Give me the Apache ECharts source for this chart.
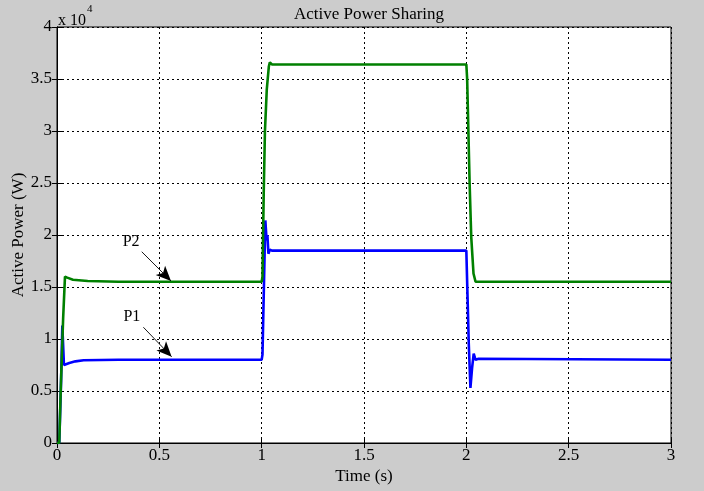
<!DOCTYPE html>
<html><head><meta charset="utf-8">
<script src="https://cdn.jsdelivr.net/npm/echarts@6/dist/echarts.min.js"></script>
<style>html,body{margin:0;padding:0;background:#cccccc}#c{width:704px;height:491px}</style>
</head><body><div id="c"></div>
<script>
// Values in units of 10^4 W
var P1 = [[0,0],[0.011,0],[0.02,0.6],[0.026,1.13],[0.034,0.75],[0.06,0.77],[0.09,0.785],[0.13,0.795],[0.3,0.8],[1.0,0.8],[1.004,0.85],[1.012,1.6],[1.018,2.14],[1.024,1.95],[1.028,2.0],[1.033,1.82],[1.04,1.86],[1.05,1.85],[2.0,1.85],[2.006,1.4],[2.012,0.95],[2.02,0.53],[2.028,0.72],[2.036,0.86],[2.045,0.8],[2.06,0.81],[3.0,0.8]];
var P2 = [[0,0],[0.011,0],[0.019,0.56],[0.03,1.2],[0.039,1.6],[0.05,1.59],[0.078,1.57],[0.15,1.558],[0.3,1.55],[1.0,1.55],[1.004,1.6],[1.01,2.4],[1.016,3.0],[1.025,3.4],[1.035,3.62],[1.04,3.66],[1.05,3.64],[2.0,3.64],[2.004,3.5],[2.016,2.5],[2.024,1.98],[2.035,1.63],[2.045,1.55],[3.0,1.55]];
var xTicks = [0,0.5,1,1.5,2,2.5,3];
var yTicks = [0,0.5,1,1.5,2,2.5,3,3.5,4];
var labelNames = ['P2','P1'];
var labelPos = [[0.362,1.933],[0.366,1.212]];
var arrowFrom = [[0.414,1.839],[0.422,1.113]];
var arrowTo = [[0.557,1.558],[0.560,0.830]];

var FONT = 'Liberation Serif';
var chart = echarts.init(document.getElementById('c'));
var tickFmt = function(v){ return String(v); };
var option = {
  backgroundColor: '#cccccc',
  animation: false,
  title: {text: 'Active Power Sharing', left: 364, top: 1, textAlign: 'center',
    textStyle: {fontFamily: FONT, fontSize: 17, fontWeight: 'normal', color: '#000'}},
  grid: {left: 57, right: 33, top: 27, bottom: 48, containLabel: false, outerBoundsMode: 'none',
    show: true, backgroundColor: '#fff', borderColor: '#000', borderWidth: 1},
  xAxis: [{
    type: 'value', min: 0, max: 3, interval: 0.5,
    name: 'Time (s)', nameLocation: 'middle', nameGap: 25, nameMoveOverlap: false,
    nameTextStyle: {fontFamily: FONT, fontSize: 17, color: '#000'},
    axisLine: {show: true, lineStyle: {color: '#000', width: 1}},
    axisTick: {show: true, inside: true, length: 5, lineStyle: {color: '#000'}},
    axisLabel: {fontFamily: FONT, fontSize: 17, color: '#000', margin: 4, formatter: tickFmt},
    splitLine: {show: true, lineStyle: {color: '#000', type: [2,3], width: 1}}
  },{
    type: 'value', min: 0, max: 3, interval: 0.5, position: 'top',
    axisLine: {show: true, lineStyle: {color: '#000'}},
    axisTick: {show: true, inside: true, length: 5, lineStyle: {color: '#000'}},
    axisLabel: {show: false}, splitLine: {show: false}
  }],
  yAxis: [{
    type: 'value', min: 0, max: 4, interval: 0.5,
    name: 'Active Power (W)', nameLocation: 'middle', nameGap: 30, nameMoveOverlap: false,
    nameTextStyle: {fontFamily: FONT, fontSize: 17, color: '#000'},
    axisLine: {show: true, lineStyle: {color: '#000', width: 1}},
    axisTick: {show: true, inside: true, length: 5, lineStyle: {color: '#000'}},
    axisLabel: {fontFamily: FONT, fontSize: 17, color: '#000', margin: 5, formatter: tickFmt},
    splitLine: {show: true, lineStyle: {color: '#000', type: [2,3], width: 1}}
  },{
    type: 'value', min: 0, max: 4, interval: 0.5, position: 'right',
    axisLine: {show: true, lineStyle: {color: '#000'}},
    axisTick: {show: true, inside: true, length: 5, lineStyle: {color: '#000'}},
    axisLabel: {show: false}, splitLine: {show: false}
  }],
  graphic: [{
    type: 'text', left: 58, top: 4,
    style: {text: '{a|x 10}{b|4}', rich: {
      a: {fontFamily: FONT, fontSize: 16, fill: '#000', verticalAlign: 'bottom', padding: [9,0,0,0]},
      b: {fontFamily: FONT, fontSize: 11, fill: '#000', verticalAlign: 'top', padding: [0,0,8,1]}
    }}
  }],
  series: [
    {type: 'line', name: 'P1', data: P1, showSymbol: false, symbol: 'none',
     lineStyle: {color: '#0000ff', width: 2.6}, itemStyle: {color: '#0000ff'}, z: 3},
    {type: 'line', name: 'P2', data: P2, showSymbol: false, symbol: 'none',
     lineStyle: {color: '#008000', width: 2.6}, itemStyle: {color: '#008000'}, z: 4,
     markLine: {silent: true, symbol: ['none','arrow'], symbolSize: [10,15],
       lineStyle: {color: '#000', width: 0.9, type: 'solid'}, label: {show: false},
       itemStyle: {color: '#000'},
       data: arrowFrom.map(function(f,i){ return [{coord: f}, {coord: arrowTo[i]}]; })},
     markPoint: {silent: true, symbol: 'circle', symbolSize: 0,
       label: {show: true, position: 'inside', fontFamily: FONT, fontSize: 16, color: '#000',
         formatter: function(p){ return p.name; }},
       data: labelNames.map(function(n,i){ return {name: n, coord: labelPos[i]}; })}
    }
  ]
};
chart.setOption(option);
</script></body></html>
